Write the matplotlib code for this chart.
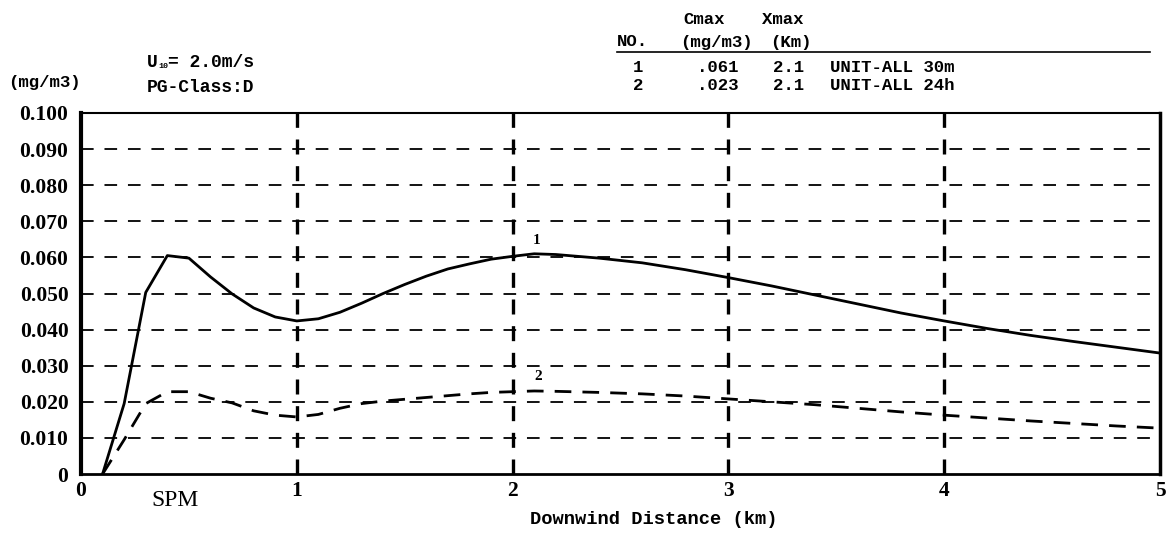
import numpy as np
import matplotlib.pyplot as plt

# downwind distance (km) and SPM concentration (mg/m3)
dist = [0.1, 0.2, 0.3, 0.4, 0.5, 0.6, 0.7, 0.8, 0.9, 1.0, 1.1, 1.2, 1.3, 1.4,
        1.5, 1.6, 1.7, 1.8, 1.9, 2.0, 2.1, 2.2, 2.4, 2.6, 2.8, 3.0, 3.2, 3.4,
        3.6, 3.8, 4.0, 4.2, 4.4, 4.6, 4.8, 5.0]
conc_30m = [0.0, 0.0195, 0.0503, 0.0605, 0.0598, 0.0546, 0.0499, 0.0460,
            0.0435, 0.0424, 0.0430, 0.0448, 0.0473, 0.0500, 0.0525, 0.0548,
            0.0568, 0.0582, 0.0595, 0.0603, 0.0610, 0.0608, 0.0598, 0.0585,
            0.0566, 0.0544, 0.0521, 0.0496, 0.0471, 0.0446, 0.0424, 0.0403,
            0.0384, 0.0367, 0.0351, 0.0335]
conc_24h = [0.0, 0.0095, 0.0195, 0.0228, 0.0228, 0.0210, 0.0197, 0.0175,
            0.0163, 0.0158, 0.0165, 0.0182, 0.0195, 0.0202, 0.0207, 0.0212,
            0.0217, 0.0222, 0.0226, 0.0228, 0.0230, 0.0229, 0.0226, 0.0222,
            0.0216, 0.0208, 0.0200, 0.0192, 0.0182, 0.0172, 0.0163, 0.0155,
            0.0147, 0.0140, 0.0133, 0.0127]

yticks = [0.0, 0.01, 0.02, 0.03, 0.04, 0.05, 0.06, 0.07, 0.08, 0.09, 0.10]
ylabels = ['0', '0.010', '0.020', '0.030', '0.040', '0.050', '0.060',
           '0.070', '0.080', '0.090', '0.100']
xticks = [0, 1, 2, 3, 4, 5]

table_rows = [('1', '.061', '2.1', 'UNIT-ALL 30m'),
              ('2', '.023', '2.1', 'UNIT-ALL 24h')]

W, H = 1168, 534
mono = 'Liberation Mono'
serif = 'Liberation Serif'

fig = plt.figure(figsize=(W / 100, H / 100), dpi=100)
ax = fig.add_axes([81 / W, 1 - 474 / H, (1160 - 81) / W, (474 - 113) / H])

def px(x, y):
    return x / W, 1 - y / H

ax.plot(dist, conc_30m, color='black', lw=2.0)
ax.plot(dist, conc_24h, color='black', lw=2.0, dashes=(6, 4))

for yv in yticks[1:-1]:
    ax.axhline(yv, color='black', lw=1.3, dashes=(7, 6))
for xv in xticks[1:-1]:
    ax.axvline(xv, color='black', lw=2.4, dashes=(4.5, 3.5))

ax.text(2.11, 0.0648, '1', ha='center', va='center', fontsize=11,
        family=serif, fontweight='bold')
ax.text(2.12, 0.0270, '2', ha='center', va='center', fontsize=11,
        family=serif, fontweight='bold')

ax.set_xlim(0, 5)
ax.set_ylim(0, 0.1)
ax.set_xticks(xticks)
ax.set_xticklabels([str(v) for v in xticks])
ax.set_yticks(yticks)
ax.set_yticklabels(ylabels)
ax.tick_params(length=0, labelsize=15.5)
ax.tick_params(axis='y', pad=9)
ax.tick_params(axis='x', pad=5)
for lab in ax.get_xticklabels() + ax.get_yticklabels():
    lab.set_family(serif)
    lab.set_fontweight('bold')

ax.spines['left'].set_linewidth(3.0)
ax.spines['bottom'].set_linewidth(2.0)
ax.spines['top'].set_linewidth(1.5)
ax.spines['right'].set_linewidth(2.5)

# axis captions
fig.text(*px(654, 519), 'Downwind Distance (km)', ha='center', va='center',
         family=mono, fontsize=13.5, fontweight='bold')
fig.text(*px(175, 500), 'SPM', ha='center', va='center',
         family=serif, fontsize=17)
fig.text(*px(8, 83), '(mg/m3)', ha='left', va='center',
         family=mono, fontsize=12.5, fontweight='bold')

# met conditions
fig.text(*px(147, 62), 'U', ha='left', va='center', family=mono,
         fontsize=13, fontweight='bold')
fig.text(*px(158, 66), '10', ha='left', va='center', family=mono,
         fontsize=6, fontweight='bold')
fig.text(*px(168, 62), '= 2.0m/s', ha='left', va='center', family=mono,
         fontsize=13, fontweight='bold')
fig.text(*px(147, 88), 'PG-Class:D', ha='left', va='center', family=mono,
         fontsize=13, fontweight='bold')

# max concentration table
hdr = dict(va='center', family=mono, fontsize=12.5, fontweight='bold')
fig.text(*px(683, 20), 'Cmax', ha='left', **hdr)
fig.text(*px(762, 20), 'Xmax', ha='left', **hdr)
fig.text(*px(617, 42), 'NO.', ha='left', **hdr)
fig.text(*px(680, 42), '(mg/m3)', ha='left', **hdr)
fig.text(*px(770, 42), '(Km)', ha='left', **hdr)
fig.add_artist(plt.Line2D([617 / W, 1150 / W], [1 - 52 / H, 1 - 52 / H],
                          color='black', lw=1.2))
for i, (no, cmax, xmax, note) in enumerate(table_rows):
    yrow = 67 + 19 * i
    fig.text(*px(638, yrow), no, ha='center', **hdr)
    fig.text(*px(697, yrow), cmax, ha='left', **hdr)
    fig.text(*px(773, yrow), xmax, ha='left', **hdr)
    fig.text(*px(830, yrow), note, ha='left', **hdr)

fig.savefig('out.png', dpi=100)
